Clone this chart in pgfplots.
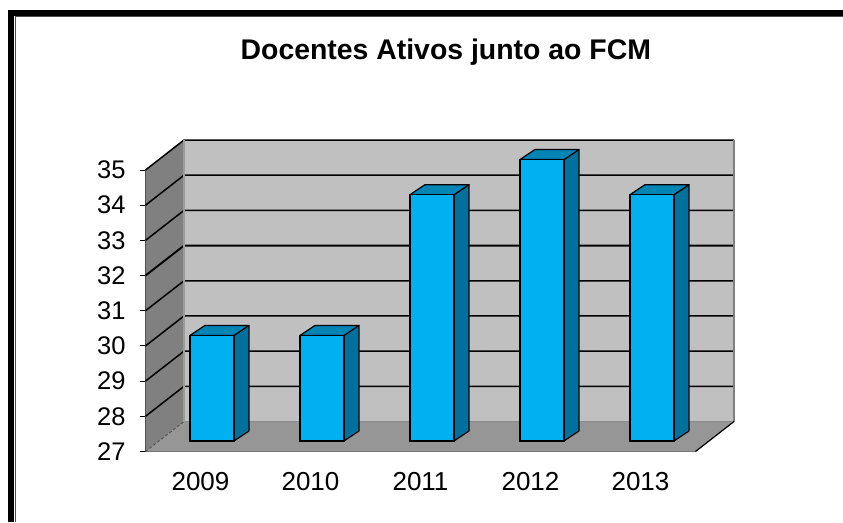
\documentclass[border=0pt]{standalone}
\usepackage{pgfplots}
\pgfplotsset{compat=1.18}
\usepackage{fontspec}
\setmainfont{Liberation Sans}
\definecolor{backw}{HTML}{C0C0C0}
\definecolor{sidew}{HTML}{808080}
\definecolor{floorw}{HTML}{969696}
\definecolor{barfront}{HTML}{00B0F0}
\definecolor{barside}{HTML}{00709C}
\definecolor{bartop}{HTML}{0085B5}
\pgfplotsset{
  base/.style={
    scale only axis, width=550pt, height=281.5pt,
    xmin=-0.5, xmax=4.5, ymin=27, ymax=35, clip=false,
  },
  wall/.style={draw=none, forget plot},
  gl/.style={black, line width=1.5pt, sharp plot, no marks, forget plot},
  bs/.style={fill=barside, draw=black, line width=1.2pt, line join=round, forget plot},
  bt/.style={fill=bartop, draw=black, line width=1.2pt, line join=round, forget plot},
}
\begin{document}
\begin{tikzpicture}[x=1pt,y=1pt]
\useasboundingbox (-145.5pt,-70.5pt) rectangle (697.5pt,451.5pt);
\begin{axis}[base,
  axis x line*=bottom, axis y line*=left,
  axis line style={draw=black, line width=1.8pt, -},
  x axis line style={draw=black!75, line width=1.4pt},
  /pgf/number format/assume math mode=true,
  ytick={27,...,35},
  yticklabel style={font=\fontsize{25.5}{28}\selectfont, xshift=-11pt},
  ytick align=outside, tick style={black, line width=1pt},
  major tick length=5.5pt,
  xtick={0,1,2,3,4}, xticklabels={2009,2010,2011,2012,2013},
  xticklabel style={font=\fontsize{26}{28}\selectfont, yshift=-17pt},
  x tick style={draw=none},
  extra x ticks={-0.5,0.5,1.5,2.5,3.5,4.5},
  extra x tick labels={},
  extra x tick style={tick style={black, line width=0.9pt}, major tick length=8pt},
  title={Docentes Ativos junto ao FCM},
  title style={font=\bfseries\fontsize{28.4}{30}\selectfont, at={(rel axis cs:0.546,1.391)}, anchor=base, inner sep=0pt, yshift=-6pt},
]
\addplot[wall, fill=sidew] coordinates {(-0.5,27)(-0.15,27.852)(-0.15,35.852)(-0.5,35)} -- cycle;
\addplot[wall, fill=floorw] coordinates {(-0.5,27)(4.5,27)(4.85,27.852)(-0.15,27.852)} -- cycle;
\addplot[wall, fill=backw] coordinates {(-0.15,27.852)(4.85,27.852)(4.85,35.852)(-0.15,35.852)} -- cycle;
% gridlines on the two walls
\addplot[gl, draw=black!70, line width=0.8pt, densely dashed] coordinates {(-0.5,27)(-0.15,27.852)};
\addplot[gl, draw=black!45, line width=1.2pt] coordinates {(-0.15,27.852)(4.85,27.852)};
\addplot[gl] coordinates {(-0.5,28)(-0.15,28.852)(4.85,28.852)};
\addplot[gl] coordinates {(-0.5,29)(-0.15,29.852)(4.85,29.852)};
\addplot[gl] coordinates {(-0.5,30)(-0.15,30.852)(4.85,30.852)};
\addplot[gl] coordinates {(-0.5,31)(-0.15,31.852)(4.85,31.852)};
\addplot[gl, line width=1.9pt] coordinates {(-0.5,32)(-0.15,32.852)(4.85,32.852)};
\addplot[gl] coordinates {(-0.5,33)(-0.15,33.852)(4.85,33.852)};
\addplot[gl] coordinates {(-0.5,34)(-0.15,34.852)(4.85,34.852)};
\addplot[gl] coordinates {(-0.5,35)(-0.15,35.852)(4.85,35.852)};
% wall edges
\addplot[gl, draw=sidew, line width=1.5pt] coordinates {(4.85,27.852)(4.85,35.852)};
\addplot[gl, draw=sidew!70!black!60, line width=1.2pt] coordinates {(-0.15,27.852)(-0.15,35.852)};
\addplot[gl, line width=1.2pt] coordinates {(4.5,27)(4.85,27.852)};
\end{axis}
\begin{axis}[base, at={(11.5pt,10.5pt)}, axis lines=none]
\addplot[bs] coordinates {(0.2,27)(0.336,27.284)(0.336,30.284)(0.2,30)} -- cycle;
\addplot[bt] coordinates {(-0.2,30)(0.2,30)(0.336,30.284)(-0.064,30.284)} -- cycle;
\addplot[bs] coordinates {(1.2,27)(1.336,27.284)(1.336,30.284)(1.2,30)} -- cycle;
\addplot[bt] coordinates {(0.8,30)(1.2,30)(1.336,30.284)(0.936,30.284)} -- cycle;
\addplot[bs] coordinates {(2.2,27)(2.336,27.284)(2.336,34.284)(2.2,34)} -- cycle;
\addplot[bt] coordinates {(1.8,34)(2.2,34)(2.336,34.284)(1.936,34.284)} -- cycle;
\addplot[bs] coordinates {(3.2,27)(3.336,27.284)(3.336,35.284)(3.2,35)} -- cycle;
\addplot[bt] coordinates {(2.8,35)(3.2,35)(3.336,35.284)(2.936,35.284)} -- cycle;
\addplot[bs] coordinates {(4.2,27)(4.336,27.284)(4.336,34.284)(4.2,34)} -- cycle;
\addplot[bt] coordinates {(3.8,34)(4.2,34)(4.336,34.284)(3.936,34.284)} -- cycle;
\addplot[ybar, bar width=44pt, bar shift=0pt, fill=barfront, draw=black, line width=1.5pt] coordinates {(0,30)(1,30)(2,34)(3,35)(4,34)};
\end{axis}
% page frame (pixel 8..14 at left, 10..16 at top)
\fill[black] (-137.5pt,-70.5pt) rectangle (-131.5pt,441.5pt);
\fill[black] (-137.5pt,435.5pt) rectangle (697.5pt,441.5pt);
\draw[black!70, line width=0.8pt] (-130pt,-70.5pt) -- (-130pt,435pt) -- (697.5pt,435pt);
\end{tikzpicture}
\end{document}
